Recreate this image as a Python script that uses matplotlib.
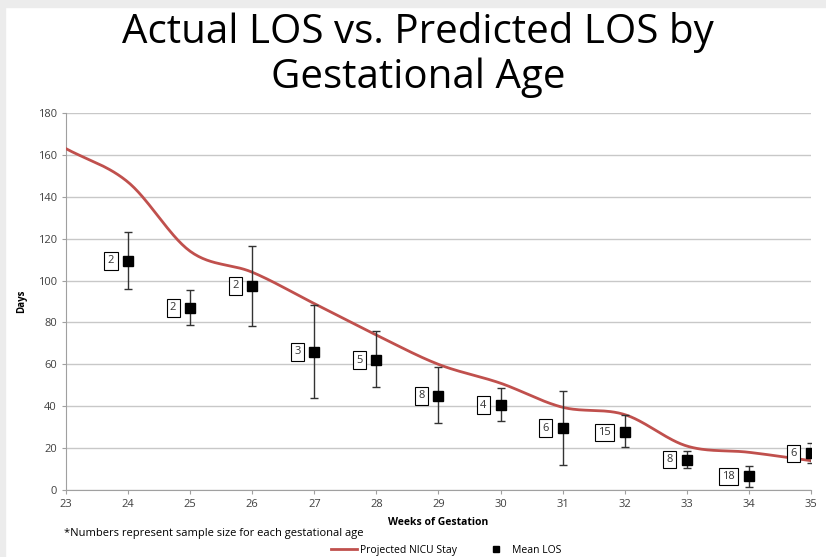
import numpy as np
import matplotlib
matplotlib.use("Agg")
import matplotlib.pyplot as plt
from matplotlib.patches import Rectangle
from matplotlib.lines import Line2D

# ── data ─────────────────────────────────────────────────────────────────
weeks = [23, 24, 25, 26, 27, 28, 29, 30, 31, 32, 33, 34, 35]
projected = [163, 147, 114, 104, 89, 74, 60, 51, 39.5, 36, 21, 18, 14]

los_weeks = [24, 25, 26, 27, 28, 29, 30, 31, 32, 33, 34, 35]
mean_los = [109.5, 87, 97.5, 66, 62, 45, 40.5, 29.5, 27.5, 14.5, 6.5, 17.5]
err_low = [96, 79, 78.5, 44, 49, 32, 33, 12, 20.5, 10.5, 1.5, 13]
err_high = [123, 95.5, 116.5, 88.5, 76, 58.5, 48.5, 47.5, 36, 18.5, 11.5, 22.5]
sample_n = [2, 2, 2, 3, 5, 8, 4, 6, 15, 8, 18, 6]


def smooth(xs, ys, n=30):
    # Catmull-Rom, roughly what Excel's "smoothed line" does
    x = np.asarray(xs, float)
    y = np.asarray(ys, float)
    px = np.concatenate([[2 * x[0] - x[1]], x, [2 * x[-1] - x[-2]]])
    py = np.concatenate([[2 * y[0] - y[1]], y, [2 * y[-1] - y[-2]]])
    ox, oy = [], []
    t = np.linspace(0, 1, n, endpoint=False)
    for i in range(1, len(px) - 2):
        for arr, out in ((px, ox), (py, oy)):
            p0, p1, p2, p3 = arr[i - 1], arr[i], arr[i + 1], arr[i + 2]
            out.extend(0.5 * (2 * p1 + (-p0 + p2) * t
                              + (2 * p0 - 5 * p1 + 4 * p2 - p3) * t ** 2
                              + (-p0 + 3 * p1 - 3 * p2 + p3) * t ** 3))
    ox.append(x[-1])
    oy.append(y[-1])
    return ox, oy


plt.rcParams["font.family"] = ["Open Sans", "DejaVu Sans"]

fig = plt.figure(figsize=(8.26, 5.57), dpi=100)
fig.patches.append(Rectangle((0, 0.987), 1, 0.013, transform=fig.transFigure,
                             color="#ececec", zorder=0))
fig.patches.append(Rectangle((0, 0), 0.006, 1, transform=fig.transFigure,
                             color="#ececec", zorder=0))

ax = fig.add_axes([0.0799, 0.1203, 0.9019, 0.6767])

sx, sy = smooth(weeks, projected)
ax.plot(sx, sy, color="#c0504d", lw=2, zorder=3)

yerr = [np.array(mean_los) - np.array(err_low), np.array(err_high) - np.array(mean_los)]
ax.errorbar(los_weeks, mean_los, yerr=yerr, fmt="s", color="black", ms=6.5,
            ecolor="#333333", elinewidth=1, capsize=3, capthick=1, zorder=4)

for x, y, n in zip(los_weeks, mean_los, sample_n):
    ax.annotate(str(n), (x, y), xytext=(-10, 0), textcoords="offset points",
                ha="right", va="center", fontsize=8, color="#333333",
                bbox=dict(boxstyle="square,pad=0.3", fc="white", ec="black", lw=0.8),
                zorder=5)

ax.set_xlim(23, 35)
ax.set_ylim(0, 180)
ax.set_xticks(weeks)
ax.set_yticks(range(0, 181, 20))
ax.tick_params(labelsize=8, colors="#404040", length=3, color="#a0a0a0")
ax.grid(axis="y", color="#c8c8c8", lw=1)
ax.set_axisbelow(True)
for s in ("top", "right"):
    ax.spines[s].set_visible(False)
for s in ("left", "bottom"):
    ax.spines[s].set_color("#a0a0a0")

ax.set_xlabel("Weeks of Gestation", fontsize=7.5, fontweight="bold", labelpad=5)
ax.set_ylabel("Days", fontsize=7, fontweight="bold", labelpad=8)

fig.text(0.506, 0.941, "Actual LOS vs. Predicted LOS by", ha="center", va="center",
         fontsize=29)
fig.text(0.506, 0.86, "Gestational Age", ha="center", va="center", fontsize=29)
fig.text(0.078, 0.043, "*Numbers represent sample size for each gestational age",
         ha="left", va="center", fontsize=8)

handles = [Line2D([], [], color="#c0504d", lw=2),
           Line2D([], [], color="black", marker="s", ls="none", ms=5)]
fig.legend(handles, ["Projected NICU Stay", "Mean LOS"], loc="center",
           bbox_to_anchor=(0.54, 0.012), ncol=2, frameon=False, fontsize=7.5,
           handlelength=2.5, columnspacing=2.5, handletextpad=0.3)

fig.savefig("out.png", dpi=100, facecolor="white")
